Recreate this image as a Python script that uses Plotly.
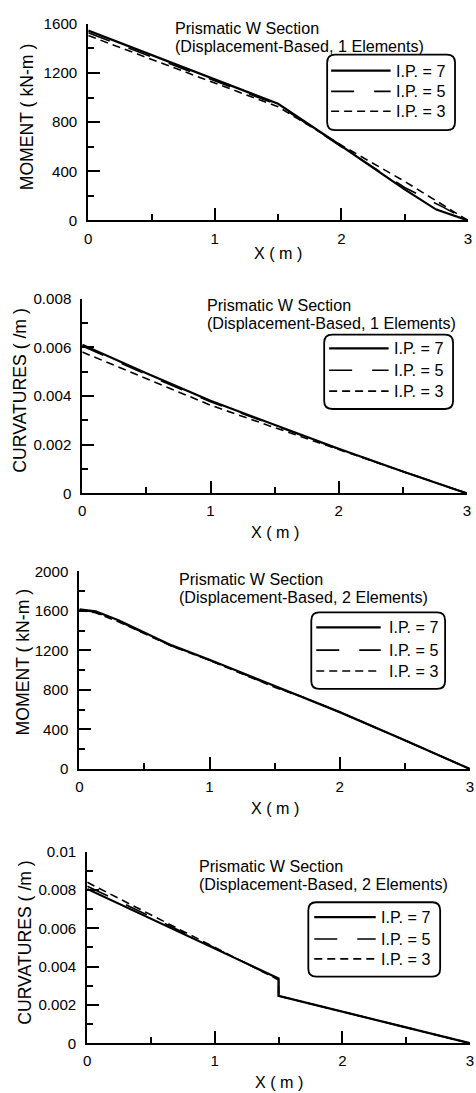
import plotly.graph_objects as go

# The screenshot is shrunk by about 0.992, so the figure is drawn slightly larger to compensate.
S = 0.992
W, H = 480, 1102

# ---------------- data ----------------
# Panel 1: Moment, 1 element
p1_x7 = [0, 1.5, 2.0, 2.5, 2.75, 3.0]
p1_y7 = [1545, 950, 606, 253, 88, 0]
p1_x5 = [0, 1.5, 2.0, 2.5, 2.8, 3.0]
p1_y5 = [1528, 940, 600, 268, 110, 0]
p1_x3 = [0, 1.5, 2.0, 2.5, 3.0]
p1_y3 = [1505, 925, 612, 318, 0]

# Panel 2: Curvature, 1 element
p2_x = [0, 0.5, 1.0, 1.5, 2.0, 2.5, 3.0]
p2_y7 = [0.0061, 0.00493, 0.0038, 0.0028, 0.00183, 0.0009, 0]
p2_y5 = [0.00605, 0.00488, 0.00376, 0.00278, 0.00182, 0.0009, 0]
p2_y3 = [0.0058, 0.00472, 0.00362, 0.0027, 0.0018, 0.00092, 0]

# Panel 3: Moment, 2 elements
p3_x = [0, 0.125, 0.3, 0.71, 1.0, 1.5, 1.7, 2.0, 2.5, 3.0]
p3_y7 = [1615, 1595, 1505, 1250, 1105, 840, 735, 575, 290, 0]
p3_y5 = [1610, 1585, 1495, 1245, 1100, 832, 735, 575, 290, 0]
p3_y3 = [1605, 1580, 1490, 1242, 1100, 826, 735, 575, 290, 0]

# Panel 4: Curvature, 2 elements
p4_x7 = [0, 1.5, 1.5, 3.0]
p4_y7 = [0.00805, 0.00338, 0.00247, 0]
p4_x5 = [0, 0.5, 1.5, 1.5, 3.0]
p4_y5 = [0.0082, 0.0066, 0.00335, 0.00247, 0]
p4_x3 = [0, 0.5, 1.0, 1.5, 1.5, 3.0]
p4_y3 = [0.0084, 0.0067, 0.00500, 0.0033, 0.00247, 0]

legend_labels = ["I.P. = 7", "I.P. = 5", "I.P. = 3"]
title_line1 = "Prismatic W Section"
title_line2 = ["(Displacement-Based, 1 Elements)", "(Displacement-Based, 1 Elements)",
               "(Displacement-Based, 2 Elements)", "(Displacement-Based, 2 Elements)"]
ytitles = ["MOMENT ( kN-m )", "CURVATURES ( /m )", "MOMENT ( kN-m )", "CURVATURES ( /m )"]
xtitle = "X ( m )"

# ---------------- layout geometry (target page pixels) ----------------
FONT = "Liberation Sans, Arial, Helvetica, sans-serif"
panels = [
    dict(l=85, r=468, t=15, b=213, yr=[0, 1600], dt=400, mdt=200),
    dict(l=79, r=467, t=291.7, b=488, yr=[0, 0.008], dt=0.002, mdt=0.001),
    dict(l=76, r=470, t=566.5, b=765.7, yr=[0, 2000], dt=400, mdt=200),
    dict(l=84, r=470, t=849, b=1042, yr=[0, 0.01], dt=0.002, mdt=0.001),
]
legend_boxes = [
    dict(x0=326, x1=455, y0=46, y1=122, rows=[62, 83, 103], s0=330, s1=390, tx=393),
    dict(x0=323, x1=453, y0=328, y1=403, rows=[342, 364, 385], s0=328, s1=388, tx=391),
    dict(x0=310, x1=445, y0=608, y1=685, rows=[623, 646, 667], s0=315, s1=380, tx=386),
    dict(x0=307, x1=440, y0=900, y1=975, rows=[915, 937, 957], s0=313, s1=375, tx=378),
]
title_pos = [(170, 19.5, 37.5), (203, 298.3, 316.7), (175, 574.7, 592.7), (195, 863.8, 882)]
ytitle_pos = [(23.3, 109), (16.7, 384), (19, 657.5), (21.3, 940.7)]
xtitle_y = [245.5, 527, 805, 1081]

def fx(px):
    return min(max((px / S) / W, 0.0), 1.0)

def fy(py):
    return min(max(1 - (py / S) / H, 0.0), 1.0)

def fs(size):
    return size / S

dashes = ["solid", "23px,20px", "8px,5px"]
widths = [2.2, 1.6, 1.6]

fig = go.Figure()
series = [
    [(p1_x7, p1_y7), (p1_x5, p1_y5), (p1_x3, p1_y3)],
    [(p2_x, p2_y7), (p2_x, p2_y5), (p2_x, p2_y3)],
    [(p3_x, p3_y7), (p3_x, p3_y5), (p3_x, p3_y3)],
    [(p4_x7, p4_y7), (p4_x5, p4_y5), (p4_x3, p4_y3)],
]
for i, ser in enumerate(series):
    sfx = "" if i == 0 else str(i + 1)
    for j, (xs, ys) in enumerate(ser):
        fig.add_trace(go.Scatter(
            x=xs, y=ys, mode="lines", name=legend_labels[j], showlegend=False,
            xaxis="x" + sfx, yaxis="y" + sfx,
            line=dict(color="black", width=widths[j], dash=dashes[j]),
        ))

layout = dict(
    width=W, height=H, margin=dict(l=0, r=0, t=0, b=0),
    paper_bgcolor="white", plot_bgcolor="white",
    font=dict(family=FONT, color="black", size=fs(15)),
    showlegend=False,
)
shapes = []
annotations = []

def ann(text, x, y, size, xanchor="left", angle=0):
    annotations.append(dict(text=text, x=fx(x), y=fy(y), xref="paper", yref="paper",
                            xanchor=xanchor, yanchor="middle", showarrow=False, textangle=angle,
                            font=dict(size=fs(size), family=FONT, color="black")))

for i, p in enumerate(panels):
    sfx = "" if i == 0 else str(i + 1)
    common = dict(showline=True, linewidth=2, linecolor="black", mirror=False,
                  ticks="inside", ticklen=12, tickwidth=2, tickcolor="black",
                  showgrid=False, zeroline=False, fixedrange=True,
                  tickfont=dict(size=fs(15), family=FONT, color="black"))
    layout["xaxis" + sfx] = dict(common, domain=[fx(p["l"]), fx(p["r"])], range=[0, 3],
                                 anchor="y" + sfx, dtick=1, tick0=0,
                                 minor=dict(ticks="inside", ticklen=6, tickwidth=2, dtick=0.5,
                                            tickcolor="black", showgrid=False),
                                 ticklabelstandoff=3)
    layout["yaxis" + sfx] = dict(common, domain=[fy(p["b"]), fy(p["t"])], range=p["yr"],
                                 anchor="x" + sfx, dtick=p["dt"], tick0=0,
                                 minor=dict(ticks="inside", ticklen=6, tickwidth=2, dtick=p["mdt"],
                                            tickcolor="black", showgrid=False),
                                 ticklabelstandoff=6)

    # axis titles
    ann(xtitle, (p["l"] + p["r"]) / 2, xtitle_y[i], 16, xanchor="center")
    yx, yy = ytitle_pos[i]
    ann(ytitles[i], yx, yy, 17.5, xanchor="center", angle=-90)

    # panel title (two lines)
    tx, ty1, ty2 = title_pos[i]
    ann(title_line1, tx, ty1, 16)
    ann(title_line2[i], tx, ty2, 16)

    # legend box (rounded rectangle) with line samples and labels
    lb = legend_boxes[i]
    r = 8
    x0, x1, y0, y1 = lb["x0"], lb["x1"], lb["y0"], lb["y1"]
    path = (f"M {fx(x0 + r)},{fy(y0)} L {fx(x1 - r)},{fy(y0)} Q {fx(x1)},{fy(y0)} {fx(x1)},{fy(y0 + r)} "
            f"L {fx(x1)},{fy(y1 - r)} Q {fx(x1)},{fy(y1)} {fx(x1 - r)},{fy(y1)} "
            f"L {fx(x0 + r)},{fy(y1)} Q {fx(x0)},{fy(y1)} {fx(x0)},{fy(y1 - r)} "
            f"L {fx(x0)},{fy(y0 + r)} Q {fx(x0)},{fy(y0)} {fx(x0 + r)},{fy(y0)} Z")
    shapes.append(dict(type="path", path=path, xref="paper", yref="paper",
                       line=dict(color="black", width=1.8), fillcolor="white", layer="above"))
    for j, ry in enumerate(lb["rows"]):
        shapes.append(dict(type="line", xref="paper", yref="paper",
                           x0=fx(lb["s0"]), x1=fx(lb["s1"]), y0=fy(ry), y1=fy(ry),
                           line=dict(color="black", width=widths[j], dash=dashes[j]),
                           layer="above"))
        ann(legend_labels[j], lb["tx"], ry, 16)

layout["shapes"] = shapes
layout["annotations"] = annotations
fig.update_layout(**layout)
fig.write_html("out.html")
